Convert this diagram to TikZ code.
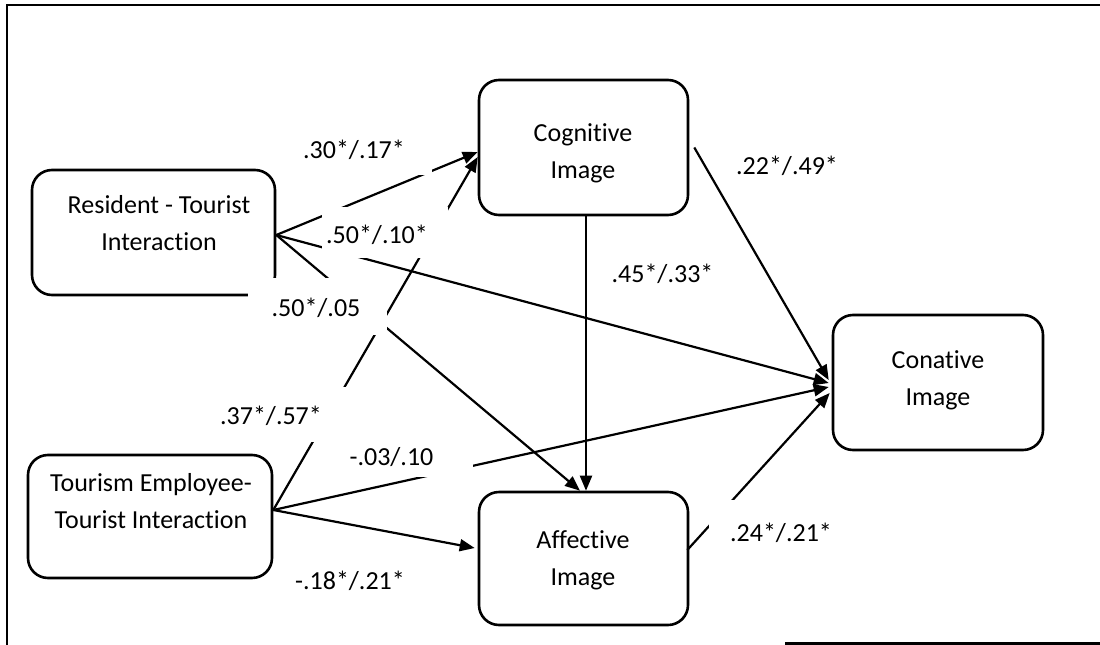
\documentclass[tikz,border=0pt]{standalone}
\usepackage{fontspec}
\setmainfont{Carlito}[Ligatures=NoCommon]
\usetikzlibrary{arrows.meta}
\tikzset{
  stagebox/.style={draw, line width=2.6pt, rounded corners=20pt, inner sep=0pt},
  boxtext/.style={align=center, inner sep=0pt, font=\fontsize{26}{37}\selectfont},
  coef/.style={inner sep=0pt, font=\fontsize{26}{31}\selectfont},
  path/.style={line width=2.2pt, -{Triangle[length=15pt,width=12pt]}},
  gap/.style={fill=white},
  frame/.style={line width=2.2pt}
}
\begin{document}
\begin{tikzpicture}[x=1pt,y=-1pt]
\useasboundingbox (0,0) rectangle (1100,645);
% outer frame
\draw[frame] (1100,5) -- (7,5) -- (7,645);
\draw[frame] (785,643.5) -- (1100,643.5);

% boxes
\node[stagebox, minimum width=243pt, minimum height=125pt] (rt) at (153.5,232.5) {};
\node[stagebox, minimum width=209pt, minimum height=135pt] (ci) at (583.5,147.5) {};
\node[stagebox, minimum width=244pt, minimum height=123pt] (te) at (150,516.5) {};
\node[stagebox, minimum width=209pt, minimum height=133pt] (ai) at (583.5,558.5) {};
\node[stagebox, minimum width=210pt, minimum height=135pt] (co) at (938,382.5) {};

% box texts
\node[boxtext] (rtT) at (159,223) {Resident - Tourist\\Interaction};
\node[boxtext] (ciT) at (583,153) {Cognitive\\Image};
\node[boxtext] (teT) at (151,501) {Tourism Employee-\\Tourist Interaction};
\node[boxtext] (aiT) at (583,560) {Affective\\Image};
\node[boxtext] (coT) at (938,380) {Conative\\Image};

% connectors
\draw[path] ([yshift=-2.5pt]rt.east) -- ([yshift=-4.5pt]ci.west);
\draw[path] ([yshift=6.5pt]te.east) -- ([yshift=-9.5pt]ci.west);
\draw[path] ([yshift=-2.5pt]rt.east) -- ([xshift=-3pt,yshift=-0.5pt]co.west);
\draw[path] ([yshift=-2.5pt]rt.east) -- ([xshift=-3.5pt]ai.north);
\draw[path] ([xshift=2.5pt]ci.south) -- ([xshift=2.5pt]ai.north);
\draw[path] ([yshift=6.5pt]te.east) -- ([xshift=-3pt,yshift=-4.5pt]co.west);
\draw[path] ([yshift=6.5pt]te.east) -- ([xshift=-3pt,yshift=10.5pt]ai.west);
\draw[path] ([xshift=5pt]ci.east) -- ([xshift=-3pt,yshift=2.5pt]co.west);
\draw[path] ([xshift=-2pt,yshift=8.5pt]ai.east) -- ([xshift=-2pt,yshift=-10.5pt]co.west);

% white label backgrounds
\fill[gap] (290,120) rectangle (432,175);
\fill[gap] (322,207) rectangle (448,258);
\fill[gap] (248,278) rectangle (387,335);
\fill[gap] (205,387) rectangle (348,442);
\fill[gap] (340,432) rectangle (473,477);
\fill[gap] (709,500) rectangle (850,560);

% coefficients
\node[coef] (lA) at (354,150) {.30*/.17*};
\node[coef] (lB) at (377,234.5) {.50*/.10*};
\node[coef] (lC) at (316,308) {.50*/.05};
\node[coef] (lD) at (271,416) {.37*/.57*};
\node[coef] (lE) at (391.5,457.5) {-.03/.10};
\node[coef] (lF) at (350,580.5) {-.18*/.21*};
\node[coef] (lG) at (662.5,273.5) {.45*/.33*};
\node[coef] (lH) at (787,166) {.22*/.49*};
\node[coef] (lI) at (781,533) {.24*/.21*};
\end{tikzpicture}
\end{document}
